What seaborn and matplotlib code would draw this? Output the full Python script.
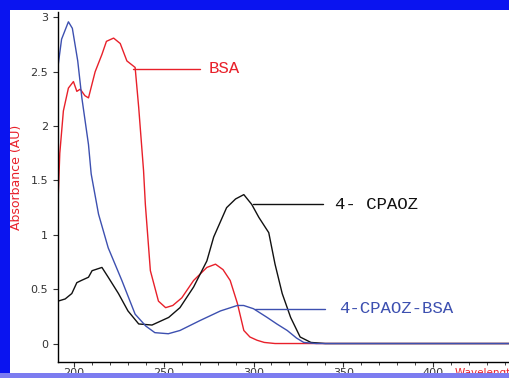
import numpy as np
import pandas as pd
import matplotlib
matplotlib.use("Agg")
import matplotlib.pyplot as plt
import seaborn as sns
from matplotlib.patches import Rectangle
from matplotlib.ticker import MultipleLocator

# ---- data ----
bsa_wl = [191, 192, 194, 196.8, 199.6, 201.5, 203.4, 206, 208, 211.7, 215.5, 218, 222, 225.7,
          229.4, 234, 236, 238.7, 239.7, 242.5, 247, 251, 255, 260, 266.6, 274, 278.8, 283,
          287, 291, 294.6, 298, 302, 306, 312, 340, 443]
bsa_val = [1.30, 1.75, 2.14, 2.35, 2.41, 2.32, 2.34, 2.28, 2.26, 2.50, 2.66, 2.78, 2.81, 2.76,
           2.60, 2.54, 2.17, 1.59, 1.28, 0.67, 0.39, 0.33, 0.35, 0.42, 0.58, 0.70, 0.73, 0.68,
           0.58, 0.37, 0.12, 0.06, 0.03, 0.01, 0.0, 0.0, 0.0]

cpaoz_wl = [191, 195, 198.7, 201.5, 204, 208, 210, 215.5, 219, 224.7, 230, 236, 243.4, 252.7,
            259, 266.6, 274, 277.8, 285, 290, 294.6, 299, 303, 308.5, 312, 316, 320.7, 326,
            332, 340, 443]
cpaoz_val = [0.39, 0.41, 0.46, 0.56, 0.58, 0.61, 0.67, 0.70, 0.61, 0.46, 0.30, 0.18, 0.17, 0.24,
             0.33, 0.52, 0.76, 0.98, 1.25, 1.33, 1.37, 1.28, 1.16, 1.02, 0.73, 0.46, 0.24, 0.06,
             0.01, 0.0, 0.0]

conj_wl = [191, 193, 196.8, 199, 202, 204.3, 208, 209.5, 213.6, 219, 226.6, 234, 240, 245,
           252.5, 259, 270, 281.6, 291, 294.5, 300, 307.6, 313, 318.8, 324, 328, 335, 443]
conj_val = [2.55, 2.80, 2.96, 2.90, 2.60, 2.26, 1.83, 1.56, 1.19, 0.88, 0.58, 0.27, 0.16, 0.10,
            0.09, 0.12, 0.21, 0.30, 0.35, 0.35, 0.32, 0.24, 0.18, 0.12, 0.05, 0.01, 0.0, 0.0]

labels = ["BSA", "4- CPAOZ", "4-CPAOZ-BSA"]
colors = ["#e8202a", "#111111", "#3d50b0"]
# leader line (x0, x1, y) and text x for each label
leaders = [(233, 270, 2.53, 275), (299.5, 338.5, 1.28, 345.5), (301, 340, 0.32, 347.5)]

x_ticks = [200, 250, 300, 350, 400]
y_ticks = [0, 0.5, 1, 1.5, 2, 2.5, 3]
y_ticklabels = ["0", "0.5", "1", "1.5", "2", "2.5", "3"]

# ---- build frame ----
df = pd.concat([
    pd.DataFrame({"wl": bsa_wl, "abs": bsa_val, "s": labels[0]}),
    pd.DataFrame({"wl": cpaoz_wl, "abs": cpaoz_val, "s": labels[1]}),
    pd.DataFrame({"wl": conj_wl, "abs": conj_val, "s": labels[2]}),
])

sns.set_style("ticks")
fig = plt.figure(figsize=(5.10, 3.78), dpi=100)
ax = fig.add_axes([58/510, 1 - 362/378, 1 - 58/510, (362 - 12)/378])

sns.lineplot(data=df, x="wl", y="abs", hue="s", palette=dict(zip(labels, colors)),
             hue_order=labels, sort=False, estimator=None, lw=1.0, legend=False, ax=ax)

for (x0, x1, yy, xt), lab, c in zip(leaders, labels, colors):
    ax.plot([x0, x1], [yy, yy], color=c, lw=1.0)
    ax.text(xt, yy, lab, color=c, fontsize=12.5, family="Liberation Mono",
            va="center", ha="left")

ax.set_xlim(191, 443)
ax.set_ylim(-0.17, 3.05)
ax.set_xticks(x_ticks)
ax.xaxis.set_minor_locator(MultipleLocator(10))
ax.set_yticks(y_ticks)
ax.set_yticklabels(y_ticklabels)
ax.tick_params(axis="both", labelsize=8, colors="#333333", length=3.6, width=0.8)
ax.tick_params(axis="x", which="major", pad=1)
ax.tick_params(axis="x", which="minor", length=2)
ax.set_xlabel("")
ax.set_ylabel("")
for sp in ["top", "right"]:
    ax.spines[sp].set_visible(False)
for sp in ["left", "bottom"]:
    ax.spines[sp].set_linewidth(1.0)
    ax.spines[sp].set_color("black")

fig.text(17/510, 1 - 177/378, "Absorbance (AU)", rotation=90, color="#e8202a",
         fontsize=9, ha="center", va="center")
fig.text(455/510, 1 - 373/378, "Wavelength (nm)", color="#e8202a", fontsize=7.5,
         ha="left", va="center")

# blue frame around the image
frame = [((0, 0), 10/510, 1, "#0a14f0"),
         ((0, 1 - 10/378), 1, 10/378, "#0a14f0"),
         ((0, 0), 1, 5/378, "#7c7cf0")]
for (xy, w, h, c) in frame:
    fig.add_artist(Rectangle(xy, w, h, transform=fig.transFigure,
                             facecolor=c, edgecolor="none", zorder=10))

fig.savefig("out.png", dpi=100)
